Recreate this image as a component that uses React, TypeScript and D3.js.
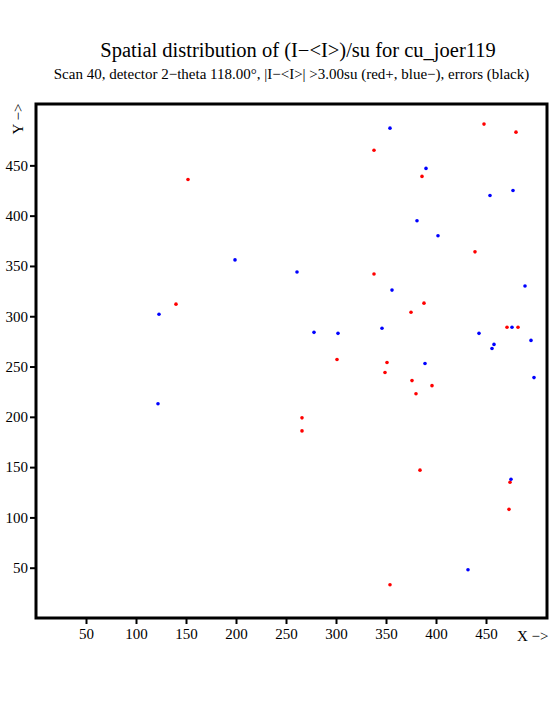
import React, { useRef, useEffect } from "react";
import * as d3 from "d3";

// points with (I-<I>)/su > +3 sigma
const redX = [448, 480, 338, 386, 439, 338, 388, 375, 471, 482, 301, 351, 349, 376, 396, 380, 152, 140, 266, 266, 384, 354, 474, 473];
const redY = [491, 483, 465, 439, 364, 342, 313, 304, 289, 289, 257, 254, 244, 236, 231, 223, 436, 312, 199, 186, 147, 33, 135, 108];
// points with (I-<I>)/su < -3 sigma
const blueX = [354, 390, 477, 454, 381, 402, 356, 489, 302, 346, 476, 443, 458, 456, 495, 389, 498, 199, 261, 123, 278, 122, 432, 475];
const blueY = [487, 447, 425, 420, 395, 380, 326, 330, 283, 288, 289, 283, 272, 268, 276, 253, 239, 356, 344, 302, 284, 213, 48, 138];
const ticks = [50, 100, 150, 200, 250, 300, 350, 400, 450];

const W = 555;
const H = 725;

function App() {
  const svgRef = useRef<SVGSVGElement>(null);

  useEffect(() => {
    const svg = d3.select(svgRef.current);
    svg.selectAll("*").remove();

    const x = d3.scaleLinear().domain([0, 511]).range([36, 547]);
    const y = d3.scaleLinear().domain([0, 511]).range([618, 104]);

    svg
      .append("text")
      .attr("x", 298)
      .attr("y", 57)
      .attr("text-anchor", "middle")
      .style("font-size", "20.5px")
      .text("Spatial distribution of (I\u2212<I>)/su for cu_joer119");
    svg
      .append("text")
      .attr("x", 291.5)
      .attr("y", 79)
      .attr("text-anchor", "middle")
      .style("font-size", "15px")
      .text("Scan 40, detector 2\u2212theta 118.00\u00b0, |I\u2212<I>| >3.00su (red+, blue\u2212), errors (black)");

    const xAxis = d3.axisBottom(x).tickValues(ticks).tickSize(6).tickPadding(4);
    const yAxis = d3.axisLeft(y).tickValues(ticks).tickSize(6).tickPadding(2);

    const gx = svg.append("g").attr("transform", `translate(0, 618)`).call(xAxis);
    const gy = svg.append("g").attr("transform", `translate(36, 0)`).call(yAxis);
    [gx, gy].forEach((g) => {
      g.select(".domain").remove();
      g.selectAll("line").attr("stroke", "black").attr("stroke-width", 2);
      g.selectAll("text")
        .style("font-family", "'Liberation Serif', serif")
        .style("font-size", "15px")
        .attr("fill", "black");
    });

    svg
      .append("rect")
      .attr("x", x(0))
      .attr("y", y(511))
      .attr("width", x(511) - x(0))
      .attr("height", y(0) - y(511))
      .attr("fill", "none")
      .attr("stroke", "black")
      .attr("stroke-width", 3);

    svg
      .append("text")
      .attr("x", 517)
      .attr("y", 641)
      .style("font-size", "15px")
      .text("X \u2212>");
    svg
      .append("text")
      .attr("transform", "translate(23, 119) rotate(-90)")
      .attr("text-anchor", "middle")
      .style("font-size", "15px")
      .text("Y \u2212>");

    svg
      .append("g")
      .selectAll("circle")
      .data(d3.range(redX.length))
      .join("circle")
      .attr("cx", (i) => x(redX[i]))
      .attr("cy", (i) => y(redY[i]))
      .attr("r", 1.8)
      .attr("fill", "#ff0000");

    svg
      .append("g")
      .selectAll("circle")
      .data(d3.range(blueX.length))
      .join("circle")
      .attr("cx", (i) => x(blueX[i]))
      .attr("cy", (i) => y(blueY[i]))
      .attr("r", 1.8)
      .attr("fill", "#0000ff");
  }, []);

  return (
    <svg
      ref={svgRef}
      width={W}
      height={H}
      style={{
        position: "absolute",
        left: 0,
        top: 0,
        background: "white",
        fontFamily: "'Liberation Serif', serif",
      }}
    ></svg>
  );
}

export default App;
